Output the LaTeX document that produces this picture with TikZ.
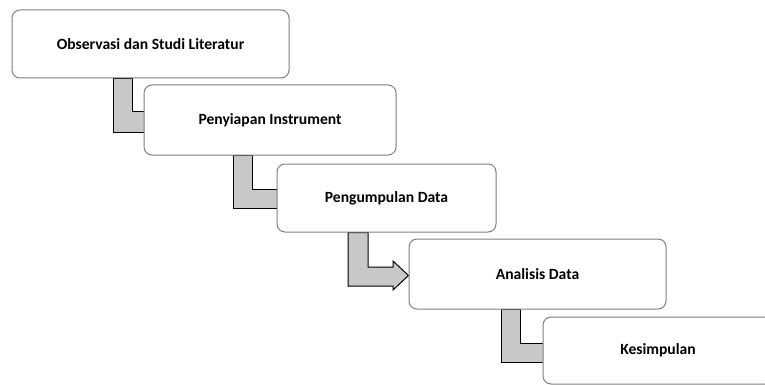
\documentclass[tikz,border=0pt]{standalone}
\usepackage{fontspec}
\setmainfont{Carlito}
\definecolor{boxline}{RGB}{128,128,128}
\definecolor{connfill}{RGB}{200,200,200}
\begin{document}
\begin{tikzpicture}[x=1pt,y=-1pt,
  box/.style={draw=boxline, line width=1pt, fill=white, rounded corners=8pt,
    inner sep=0pt, font=\bfseries\fontsize{15.6}{18}\selectfont},
  conn/.style={draw=black, line width=1pt, fill=connfill, line join=miter}]
\useasboundingbox (0,0) rectangle (765,385);
\begin{scope}
\clip (0,0) rectangle (765,385);
% boxes placed first (invisible) to get anchors
\path node[box, draw=none, fill=none, minimum width=277pt, minimum height=68pt] (b1) at (150.5,44) {}
      node[box, draw=none, fill=none, minimum width=252pt, minimum height=70pt] (b2) at (270,120) {}
      node[box, draw=none, fill=none, minimum width=219pt, minimum height=68pt] (b3) at (386.5,198) {}
      node[box, draw=none, fill=none, minimum width=257pt, minimum height=70pt] (b4) at (537.5,274) {}
      node[box, draw=none, fill=none, minimum width=230pt, minimum height=67pt] (b5) at (658,350.5) {};
% connectors
\draw[conn] (113,0 |- b1.south) -- (132,0 |- b1.south) -- (132,112) -- ([xshift=6pt]b2.west |- 0,112)
  -- ([xshift=6pt]b2.west |- 0,132) -- (113,132) -- cycle;
\draw[conn] (233,0 |- b2.south) -- (252,0 |- b2.south) -- (252,189) -- ([xshift=6pt]b3.west |- 0,189)
  -- ([xshift=6pt]b3.west |- 0,208) -- (233,208) -- cycle;
\draw[conn] (348,0 |- b3.south) -- (368,0 |- b3.south) -- (368,267) -- (393,267) -- (393,261)
  -- (b4.west |- 0,275.5) -- (393,290) -- (393,286) -- (348,286) -- cycle;
\draw[conn] (501,0 |- b4.south) -- (520,0 |- b4.south) -- (520,343) -- ([xshift=6pt]b5.west |- 0,343)
  -- ([xshift=6pt]b5.west |- 0,362) -- (501,362) -- cycle;
% visible boxes
\node[box, minimum width=277pt, minimum height=68pt] (B1) at (b1) {Observasi dan Studi Literatur};
\node[box, minimum width=252pt, minimum height=70pt] (B2) at (b2) {Penyiapan Instrument};
\node[box, minimum width=219pt, minimum height=68pt] (B3) at (b3) {Pengumpulan Data};
\node[box, minimum width=257pt, minimum height=70pt] (B4) at (b4) {Analisis Data};
\node[box, minimum width=230pt, minimum height=67pt] (B5) at (b5) {Kesimpulan};
\end{scope}
\end{tikzpicture}
\end{document}
